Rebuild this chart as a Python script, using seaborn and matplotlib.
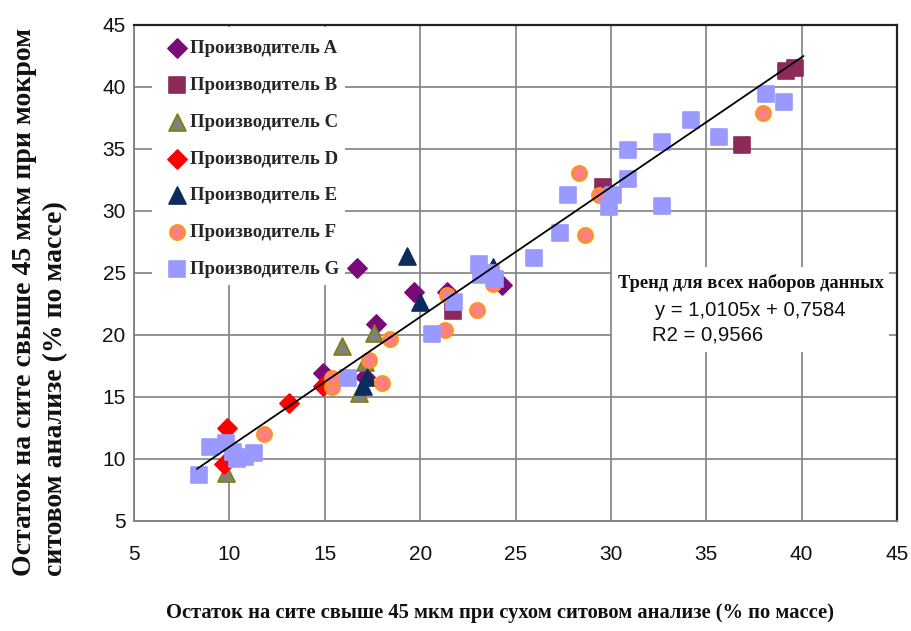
import matplotlib
matplotlib.use("Agg")
import matplotlib.pyplot as plt
from matplotlib.patches import Rectangle
import seaborn as sns
import pandas as pd

# ---- data ----
producers = ["Производитель A", "Производитель B", "Производитель C", "Производитель D",
             "Производитель E", "Производитель F", "Производитель G"]

A_x = [16.7, 19.7, 21.4, 24.3, 17.7, 14.9, 17.1]
A_y = [25.4, 23.5, 23.5, 24.0, 20.9, 16.9, 16.6]

B_x = [21.7, 29.6, 36.85, 39.2, 39.65]
B_y = [21.9, 31.9, 35.3, 41.3, 41.5]

C_x = [9.8, 15.9, 17.6, 17.1, 16.8]
C_y = [8.9, 19.1, 20.2, 17.8, 15.3]

D_x = [9.9, 9.7, 13.1, 14.9]
D_y = [12.5, 9.6, 14.5, 15.9]

E_x = [19.3, 20.0, 23.8, 17.2, 17.0]
E_y = [26.4, 22.7, 25.5, 16.6, 15.9]

F_x = [11.8, 15.4, 15.4, 17.3, 18.4, 18.0, 21.3, 23.0, 23.8, 21.4, 28.35, 28.65, 29.4, 37.95]
F_y = [12.0, 15.8, 16.5, 18.0, 19.7, 16.1, 20.4, 22.0, 24.1, 23.2, 33.1, 28.1, 31.3, 37.9]

G_x = [8.4, 9.0, 9.8, 10.2, 10.4, 10.8, 11.3, 16.2, 20.6, 21.8, 23.1, 23.2, 23.7, 23.9,
       25.95, 27.35, 27.75, 29.9, 30.1, 30.9, 30.9, 32.7, 32.7, 34.2, 35.65, 38.15, 39.05]
G_y = [8.7, 11.0, 11.3, 10.6, 10.0, 10.2, 10.5, 16.5, 20.1, 22.7, 25.7, 24.8, 25.0, 24.5,
       26.2, 28.2, 31.3, 30.3, 31.3, 32.6, 34.9, 35.6, 30.4, 37.3, 36.0, 39.4, 38.8]

trend_x = [8.3, 40.1]
trend_y = [9.2, 42.5]

ticks = [5, 10, 15, 20, 25, 30, 35, 40, 45]

x_label = "Остаток на сите свыше 45 мкм при сухом ситовом анализе (% по массе)"
y_label = "Остаток на сите свыше 45 мкм при мокром\nситовом анализе (% по массе)"
trend_title = "Тренд для всех наборов данных"
trend_eq = "y = 1,0105x + 0,7584"
trend_r2 = "R2 = 0,9566"

series = [(A_x, A_y), (B_x, B_y), (C_x, C_y), (D_x, D_y), (E_x, E_y), (F_x, F_y), (G_x, G_y)]
frames = []
for name, (xs, ys) in zip(producers, series):
    frames.append(pd.DataFrame({"x": xs, "y": ys, "p": name}))
df = pd.concat(frames, ignore_index=True)

styles = {
    "Производитель A": dict(marker="D", color="#7A0A7A", edgecolor="#7A0A7A", s=95),
    "Производитель B": dict(marker="s", color="#8E2A5A", edgecolor="#8E2A5A", s=130),
    "Производитель C": dict(marker="^", color="#808080", edgecolor="#808000", s=150),
    "Производитель D": dict(marker="D", color="#FF0000", edgecolor="#FF0000", s=95),
    "Производитель E": dict(marker="^", color="#0B2C5C", edgecolor="#0B2C5C", s=150),
    "Производитель F": dict(marker="o", color="#FF8080", edgecolor="#FF9900", s=120),
    "Производитель G": dict(marker="s", color="#9999FF", edgecolor="#9999FF", s=130),
}

sns.set_theme(style="white")
plt.rcParams["font.family"] = ["Liberation Sans", "DejaVu Sans"]

AX_L, AX_R, AX_T, AX_B = 134, 897, 25, 521
fig = plt.figure(figsize=(9.12, 6.31), dpi=100)
ax = fig.add_axes([AX_L / 912, 1 - AX_B / 631, (AX_R - AX_L) / 912, (AX_B - AX_T) / 631])

for i, name in enumerate(producers):
    st = styles[name]
    sub = df[df["p"] == name]
    sns.scatterplot(data=sub, x="x", y="y", ax=ax, marker=st["marker"], color=st["color"],
                    edgecolor=st["edgecolor"], linewidth=1.2, s=st["s"], label=name,
                    zorder=3 + i, legend=False)

sns.lineplot(x=trend_x, y=trend_y, ax=ax, color="black", linewidth=1.3, zorder=20)

ax.set_xlim(5, 45)
ax.set_ylim(5, 45)
ax.set_xticks(ticks)
ax.set_yticks(ticks)
ax.set_xticklabels([str(t) for t in ticks])
ax.set_yticklabels([str(t) for t in ticks])
ax.tick_params(axis="both", length=0, labelsize=15, colors="#111111")
ax.tick_params(axis="x", pad=17)
ax.tick_params(axis="y", pad=6)
ax.set_xlabel("")
ax.set_ylabel("")
ax.grid(True, color="#8A8A8A", linewidth=1.3)
ax.set_axisbelow(True)
for side in ["left", "bottom"]:
    ax.spines[side].set_color("#808080")
    ax.spines[side].set_linewidth(1.3)
for side in ["top", "right"]:
    ax.spines[side].set_color("#222222")
    ax.spines[side].set_linewidth(1.6)

def px2ax(px, py):
    return (px - AX_L) / (AX_R - AX_L), (AX_B - py) / (AX_B - AX_T)

# white legend area
lx0, ly1 = px2ax(152, 285)
lx1, ly0 = px2ax(345, 27)
ax.add_patch(Rectangle((lx0, ly1), lx1 - lx0, ly0 - ly1, transform=ax.transAxes,
                       facecolor="white", edgecolor="none", zorder=2))
# white trend box
tx0, ty1 = px2ax(612, 352)
tx1, ty0 = px2ax(889, 267)
ax.add_patch(Rectangle((tx0, ty1), tx1 - tx0, ty0 - ty1, transform=ax.transAxes,
                       facecolor="white", edgecolor="none", zorder=2))

handles, labels = ax.get_legend_handles_labels()
leg = ax.legend(handles, labels, loc="upper left", bbox_to_anchor=px2ax(169, 40),
                frameon=False, scatterpoints=1, handlelength=0.9, handletextpad=0.2,
                labelspacing=1.05, borderpad=0, borderaxespad=0,
                prop=dict(family=["Liberation Serif", "DejaVu Serif"], weight="bold", size=13.5))
leg.set_zorder(30)

serif_b = dict(family=["Liberation Serif", "DejaVu Serif"], weight="bold")
ax.text(*px2ax(751, 283), trend_title, transform=ax.transAxes, ha="center", va="center",
        fontsize=13.3, zorder=31, color="#111111", **serif_b)
ax.text(*px2ax(655, 310), trend_eq, transform=ax.transAxes, ha="left", va="center",
        fontsize=14.6, zorder=31, color="#111111")
ax.text(*px2ax(652, 335), trend_r2, transform=ax.transAxes, ha="left", va="center",
        fontsize=14.6, zorder=31, color="#111111")

fig.text(500 / 912, 1 - 613 / 631, x_label, ha="center", va="center", fontsize=14.8,
         color="#111111", **serif_b)
fig.text(40 / 912, 1 - 576 / 631, y_label, ha="center", va="bottom", rotation=90,
         multialignment="left", fontsize=20, linespacing=1.3, color="#111111", **serif_b)

fig.savefig("out.png", dpi=100)
